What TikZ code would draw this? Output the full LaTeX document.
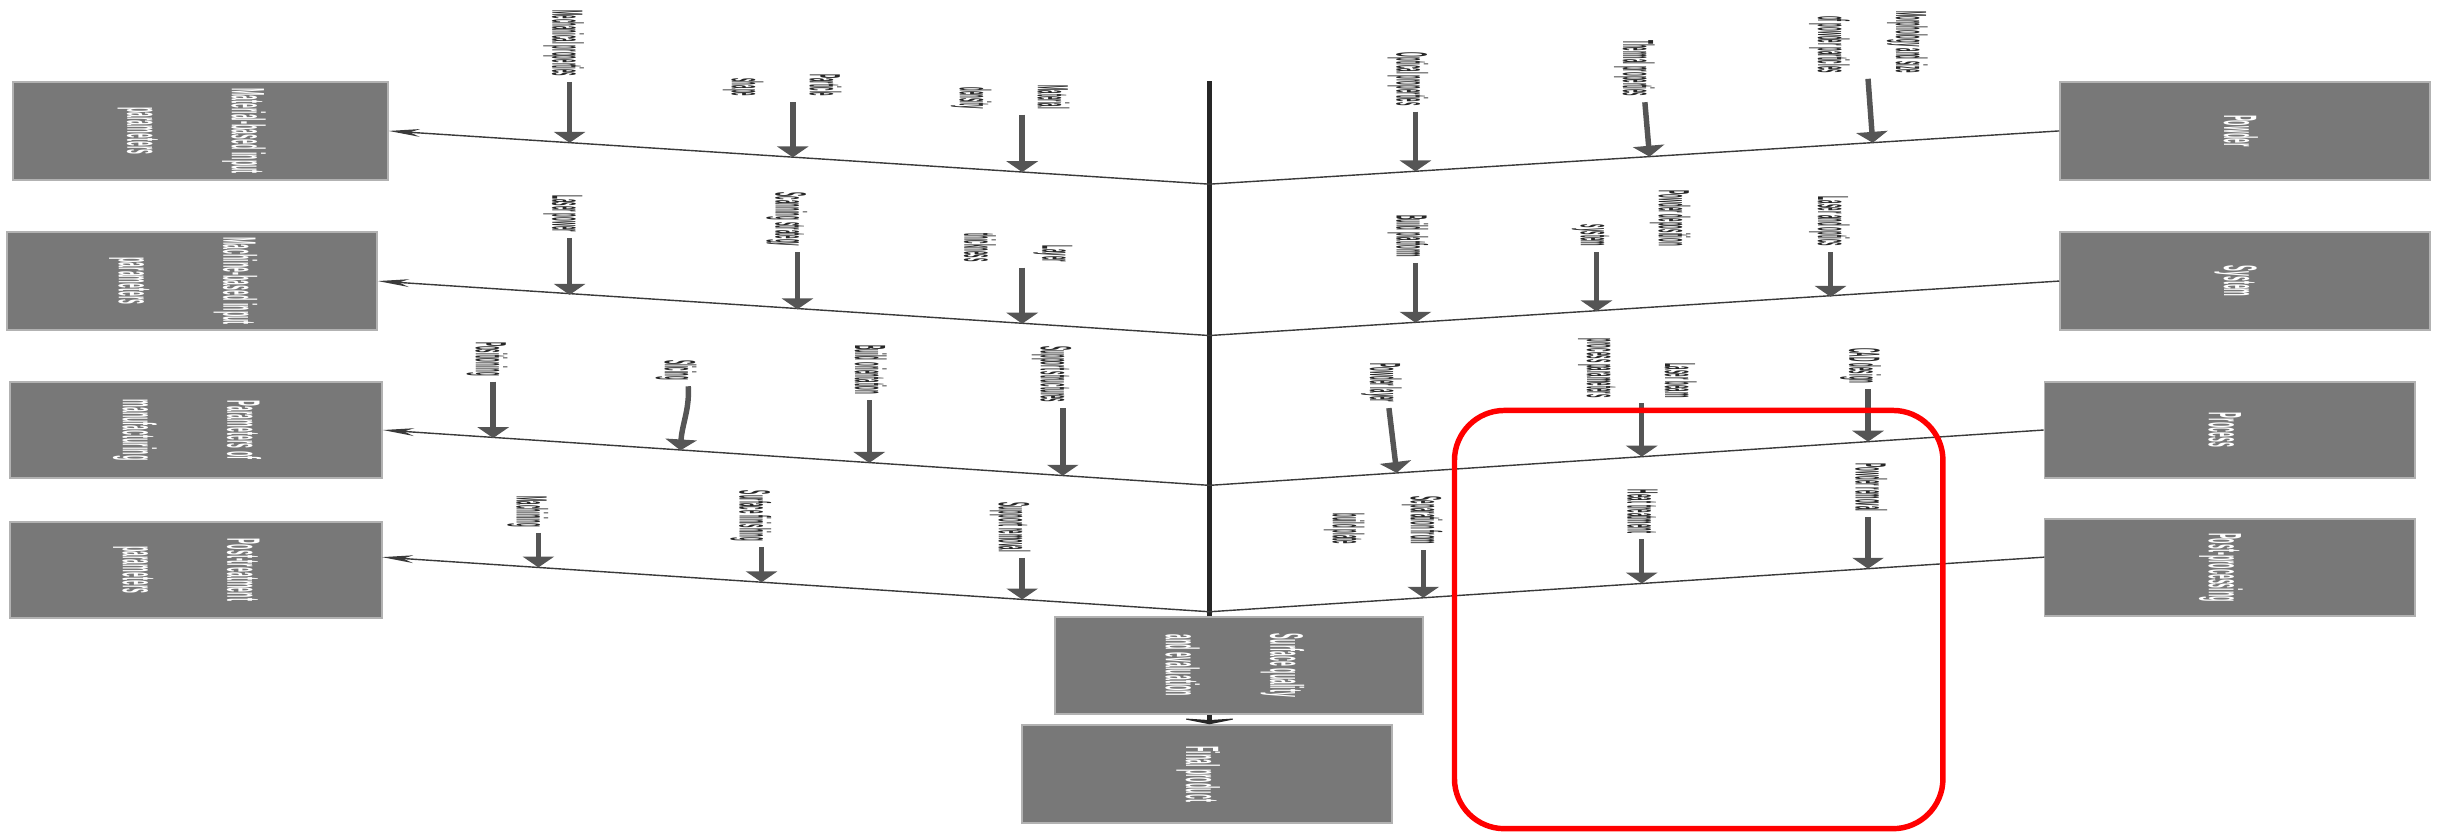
\documentclass[tikz,border=0pt]{standalone}
\usepackage{fontspec}
\setmainfont{Liberation Sans}
\usepackage{graphicx}
\usetikzlibrary{arrows.meta,calc}
\definecolor{boxgray}{HTML}{787878}
\definecolor{arrgray}{HTML}{555555}
\definecolor{linegray}{HTML}{3A3A3A}
\newcommand{\lbltext}[1]{\rotatebox{-90}{\scalebox{0.142}[1]{\fontsize{28}{50}\selectfont\bfseries\begin{tabular}{@{}r@{}}#1\end{tabular}}}}
\newcommand{\boxtext}[1]{\rotatebox{-90}{\scalebox{0.188}[1]{\fontsize{30}{67}\selectfont\bfseries\begin{tabular}{@{}c@{}}#1\end{tabular}}}}
\newcommand{\fl}[7]{%
  \node[lbl] (#1) at (#2,#3) {\lbltext{#4}};
  \coordinate (#1s) at (#5,#3+3.5);
  \coordinate (#1t) at (#6,#7);
  \draw[arr] (#1s) -- (#1t);}
\begin{document}
\begin{tikzpicture}[x=1pt,y=-1pt,
  gbox/.style={fill=boxgray,draw=gray!60,line width=1pt,inner sep=0pt,text=white},
  lbl/.style={anchor=south,inner sep=0pt,text=black!85},
  arr/.style={line width=3.5pt,draw=arrgray,-{Triangle[length=7pt,width=20pt]}},
  branch/.style={line width=0.9pt,draw=linegray},
  spine/.style={line width=3pt,draw=black!85}]
\useasboundingbox (0,0) rectangle (1568,536);
% category boxes
\node[gbox,minimum width=240.3pt,minimum height=62.8pt] (LB1) at (128.45,83.9) {\boxtext{Material-based input\\parameters}};
\node[gbox,minimum width=237.1pt,minimum height=62.8pt] (LB2) at (123.05,180.1) {\boxtext{Machine-based input\\parameters}};
\node[gbox,minimum width=238.4pt,minimum height=61.5pt] (LB3) at (125.6,275.55) {\boxtext{Parameters of\\manufacturing}};
\node[gbox,minimum width=238.4pt,minimum height=61.5pt] (LB4) at (125.6,365.25) {\boxtext{Post-treatment\\parameters}};
\node[gbox,minimum width=237pt,minimum height=62.8pt] (RB1) at (1438.5,83.9) {\boxtext{Powder}};
\node[gbox,minimum width=237pt,minimum height=62.8pt] (RB2) at (1438.5,180.1) {\boxtext{System}};
\node[gbox,minimum width=237.5pt,minimum height=61.5pt] (RB3) at (1428.75,275.55) {\boxtext{Process}};
\node[gbox,minimum width=237.5pt,minimum height=62.1pt] (RB4) at (1428.75,363.65) {\boxtext{Post-processing}};
\node[gbox,minimum width=235.8pt,minimum height=62.1pt] (CB) at (793.9,426.45) {\boxtext{Surface quality\\and evaluation}};
\node[gbox,minimum width=237pt,minimum height=62.8pt] (FB) at (773.5,496) {\boxtext{Final product}};
% spine
\coordinate (S0) at (775,52);
\coordinate (S1) at (775,118);
\coordinate (S2) at (775,215);
\coordinate (S3) at (775,311);
\coordinate (S4) at (775,392);
\coordinate (L4e) at (244.8,357);
\coordinate (R4e) at (1310,357);
\draw[spine] (S0) -- (CB.north -| S0);
\draw[spine,-{Stealth[length=4pt,width=40pt]}] (CB.south -| S0) -- (FB.north -| S0);
% branches
\draw[branch,-{Stealth[length=20pt,width=5pt]}] (S1) -- (LB1.east);
\draw[branch,-{Stealth[length=20pt,width=5pt]}] (S2) -- (LB2.east);
\draw[branch,-{Stealth[length=20pt,width=5pt]}] (S3) -- (LB3.east);
\draw[branch,-{Stealth[length=20pt,width=5pt]}] (S4) -- (L4e);
\draw[branch] (S1) -- (RB1.west);
\draw[branch] (S2) -- (RB2.west);
\draw[branch] (S3) -- (RB3.west);
\draw[branch] (S4) -- (R4e);
% causes
\fl{A1}{364}{49}{Mechanical properties}{365}{365}{91.5}
\fl{A2}{504}{62}{Particle\\shape}{508}{508}{100.8}
\fl{A3}{650}{70}{Material\\density}{655}{655}{110.3}
\fl{B1}{905}{68}{Optical properties}{907}{907}{109.8}
\fl{B2}{1050}{62}{Thermal properties}{1054}{1057}{100.4}
\fl{B3}{1200}{47}{Morphology and size\\of powder particles}{1197}{1200}{91.5}
\fl{C1}{364}{149}{Laser power}{365}{365}{188.9}
\fl{C2}{507}{158}{Scanning strategy}{511}{511}{198.2}
\fl{C3}{653}{168}{Layer\\thickness}{655}{655}{207.4}
\fl{D1}{905}{165}{Build platform}{907}{907}{206.8}
\fl{D2}{1048}{158}{Powder deposition\\system}{1023}{1023}{199.5}
\fl{D3}{1175}{158}{Laser and optics}{1173}{1173}{190.2}
\fl{E1}{315}{241}{Positioning}{316}{316}{280.7}
\node[lbl] (E2) at (436,244) {\lbltext{Slicing}};
\coordinate (E2s) at (441,247.5);
\coordinate (E2t) at (436,288.6);
\draw[arr] (E2s) .. controls (442,262) and (437,272) .. (E2t);
\fl{E3}{558}{253}{Build orientation}{557}{557}{296.6}
\fl{E4}{677}{258}{Support structures}{681}{681}{304.8}
\fl{F1}{888}{258}{Powder layer}{890}{895}{303.0}
\fl{F2}{1052}{255}{Laser beam\\process parameters}{1052}{1052}{292.6}
\fl{F3}{1195}{246}{CAD design}{1197}{1197}{283.0}
\fl{G1}{341}{338}{Machining}{345}{345}{363.6}
\fl{G2}{484}{347}{Surface finishing}{488}{488}{373.1}
\fl{G3}{650}{354}{Support removal}{655}{655}{384.1}
\fl{H1}{889}{349}{Separation from\\build plate}{912}{912}{383.0}
\fl{H2}{1053}{342}{Heat treatment}{1052}{1052}{373.9}
\fl{H3}{1199}{328}{Powder removal}{1197}{1197}{364.4}
% highlight
\draw[red,line width=3.5pt,rounded corners=32pt] (932,263) rectangle (1245,531);
\end{tikzpicture}
\end{document}
